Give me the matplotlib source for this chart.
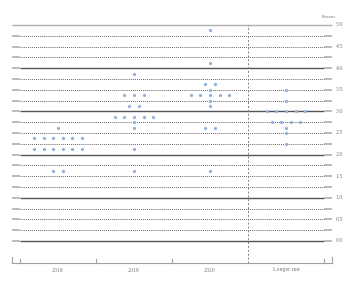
import matplotlib
matplotlib.use("Agg")
import matplotlib.pyplot as plt
from collections import Counter

# FOMC participants' projections of the federal funds rate (percent)
columns = ['2018', '2019', '2020', 'Longer run']
proj_2018 = [2.625,
             2.375, 2.375, 2.375, 2.375, 2.375, 2.375,
             2.125, 2.125, 2.125, 2.125, 2.125, 2.125,
             1.625, 1.625]
proj_2019 = [3.875,
             3.375, 3.375, 3.375,
             3.125, 3.125,
             2.875, 2.875, 2.875, 2.875, 2.875,
             2.75, 2.625, 2.125, 1.625]
proj_2020 = [4.875, 4.125,
             3.625, 3.625, 3.5,
             3.375, 3.375, 3.375, 3.375, 3.375,
             3.25, 3.125,
             2.625, 2.625, 1.625]
proj_lr = [3.5, 3.25,
           3.0, 3.0, 3.0, 3.0, 3.0,
           2.75, 2.75, 2.75, 2.75,
           2.625, 2.5, 2.25]
projections = [proj_2018, proj_2019, proj_2020, proj_lr]

y_labels = ['0.0', '0.5', '1.0', '1.5', '2.0', '2.5', '3.0', '3.5', '4.0', '4.5', '5.0']
grid_levels = [i * 0.25 for i in range(21)]

dot_color = '#8fb1da'
text_color = '#777777'
serif = ['Liberation Serif', 'DejaVu Serif']

fig = plt.figure(figsize=(3.6, 2.87), dpi=100)
ax = fig.add_axes([0, 0, 1, 1])
# one column = one unit on x, one percent = one unit on y
ax.set_xlim(-20 / 76, 340 / 76)
ax.set_ylim(-46 / 43.2, 241 / 43.2)
ax.axis('off')

x0, x1 = 0.0, 4.0          # inner width of the grid
e0, e1 = -8 / 76, 4 + 8 / 76  # gray end caps

for lev in grid_levels:
    if abs(lev - 5.0) < 1e-9:
        ax.plot([e0, e1], [lev, lev], color='#b0b0b0', lw=1.0, solid_capstyle='butt')
        continue
    if abs(lev - round(lev)) < 1e-9:
        ax.plot([x0, x1], [lev, lev], color='#555555', lw=1.0, solid_capstyle='butt')
    else:
        ax.plot([x0, x1], [lev, lev], color='#444444', lw=0.7, ls=(0, (0.8, 1.2)))
    ax.plot([e0, x0], [lev, lev], color='#a8a8a8', lw=1.1, solid_capstyle='butt')
    ax.plot([x1, e1], [lev, lev], color='#a8a8a8', lw=1.1, solid_capstyle='butt')

for i, lab in enumerate(y_labels):
    ax.text(e1 + 0.05, i * 0.5, lab, fontsize=4.2, color=text_color,
            family=serif, ha='left', va='center')
ax.text(e1 - 0.04, 5.0 + 0.19, 'Percent', fontsize=3.3, color=text_color,
        family=serif, ha='center', va='center')

# separator before the longer run column
ax.plot([3, 3], [-0.51, 5.0], color='#808080', lw=0.7, ls=(0, (2, 2)))

# bottom axis
yb = -22 / 43.2
ax.plot([e0, e1], [yb, yb], color='#a0a0a0', lw=0.8)
for tx, th in [(e0, 6), (0, 4), (1, 4), (2, 4), (4, 4), (e1, 6)]:
    ax.plot([tx, tx], [yb, yb + th / 43.2], color='#a0a0a0', lw=0.8)

for i, lab in enumerate(columns):
    ax.text(i + 0.5, yb - 7 / 43.2, lab, fontsize=4.2, color=text_color,
            family=serif, ha='center', va='center')

# dots, spread side by side around the column centre
spacing = 9.6 / 76
for i, vals in enumerate(projections):
    for rate, n in Counter(vals).items():
        xs = [i + 0.5 + (k - (n - 1) / 2) * spacing for k in range(n)]
        ax.plot(xs, [rate] * n, 'o', color=dot_color, ms=2.3, mew=0)

fig.savefig('out.png', dpi=100)
